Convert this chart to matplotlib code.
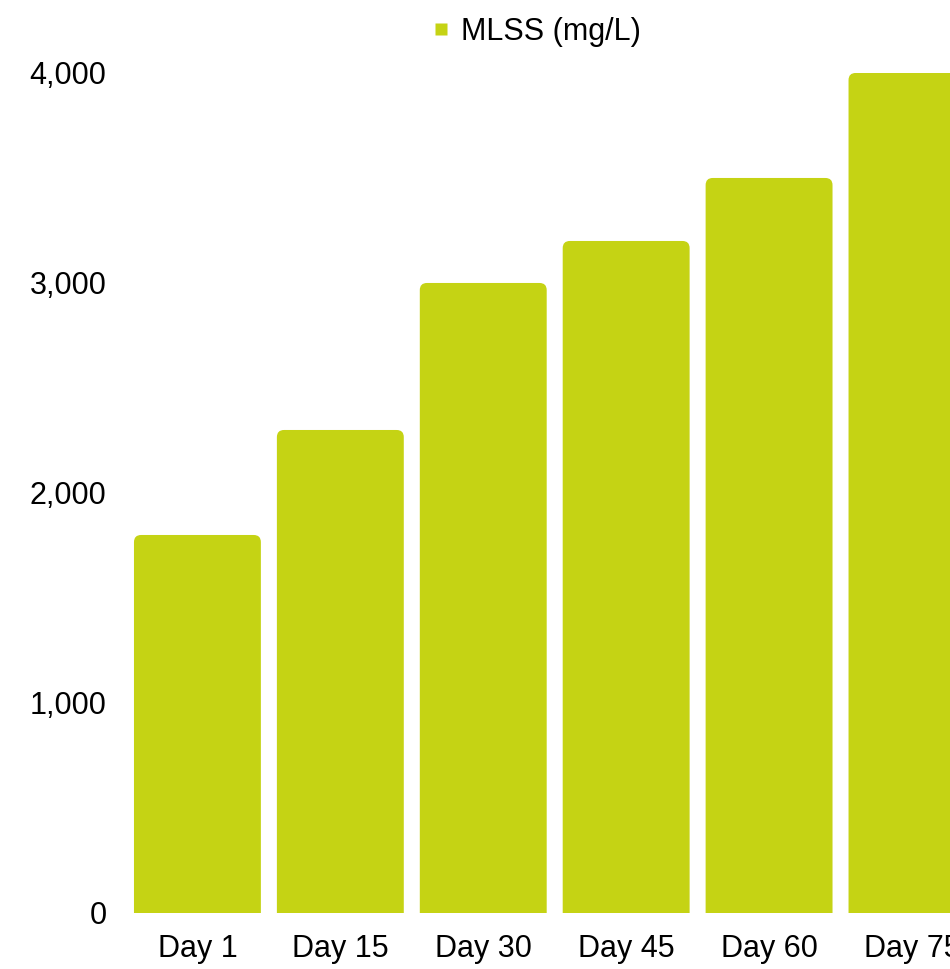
import matplotlib
matplotlib.use('Agg')
import matplotlib.pyplot as plt
import matplotlib.ticker as mtick
from matplotlib.patches import FancyBboxPatch
from matplotlib.lines import Line2D

days = ['Day 1', 'Day 15', 'Day 30', 'Day 45', 'Day 60', 'Day 75']
mlss = [1800, 2300, 3000, 3200, 3500, 4000]
y_ticks = [0, 1000, 2000, 3000, 4000]

BAR_COLOR = '#c5d314'

plt.rcParams['font.family'] = ['Liberation Sans', 'DejaVu Sans']


def rounded_tops(ax, bars, radius=0.05, aspect=681):
    """Swap plain bars for ones with slightly rounded top corners."""
    for rect in bars:
        x, w, h = rect.get_x(), rect.get_width(), rect.get_height()
        rect.set_visible(False)
        extra = 300  # push the bottom below 0 so only the top corners show
        patch = FancyBboxPatch((x, -extra), w, h + extra,
                               boxstyle=f'round,pad=0,rounding_size={radius}',
                               mutation_aspect=aspect,
                               facecolor=BAR_COLOR, edgecolor='none')
        ax.add_patch(patch)


fig = plt.figure(figsize=(9.5, 9.69), dpi=100)
ax = fig.add_axes([0.1326, 0.0578, 0.9026, 0.8669])

bars = ax.bar(range(len(days)), mlss, width=0.888, color=BAR_COLOR)
rounded_tops(ax, bars)

ax.set_xlim(-0.5, len(days) - 0.5)
ax.set_ylim(0, 4000)
ax.set_xticks(range(len(days)))
ax.set_xticklabels(days)
ax.set_yticks(y_ticks)
ax.yaxis.set_major_formatter(mtick.StrMethodFormatter('{x:,.0f}'))
ax.tick_params(axis='both', length=0, labelsize=22)
ax.tick_params(axis='y', pad=14)
ax.tick_params(axis='x', pad=15)
for side in ax.spines.values():
    side.set_visible(False)

handle = Line2D([], [], marker='s', linestyle='none', markersize=8,
                markerfacecolor=BAR_COLOR, markeredgecolor='none')
fig.legend([handle], ['MLSS (mg/L)'], loc='center', bbox_to_anchor=(0.561, 0.967),
           frameon=False, fontsize=22, handletextpad=0.15, handlelength=1.0)

fig.savefig('out.png', dpi=100)
